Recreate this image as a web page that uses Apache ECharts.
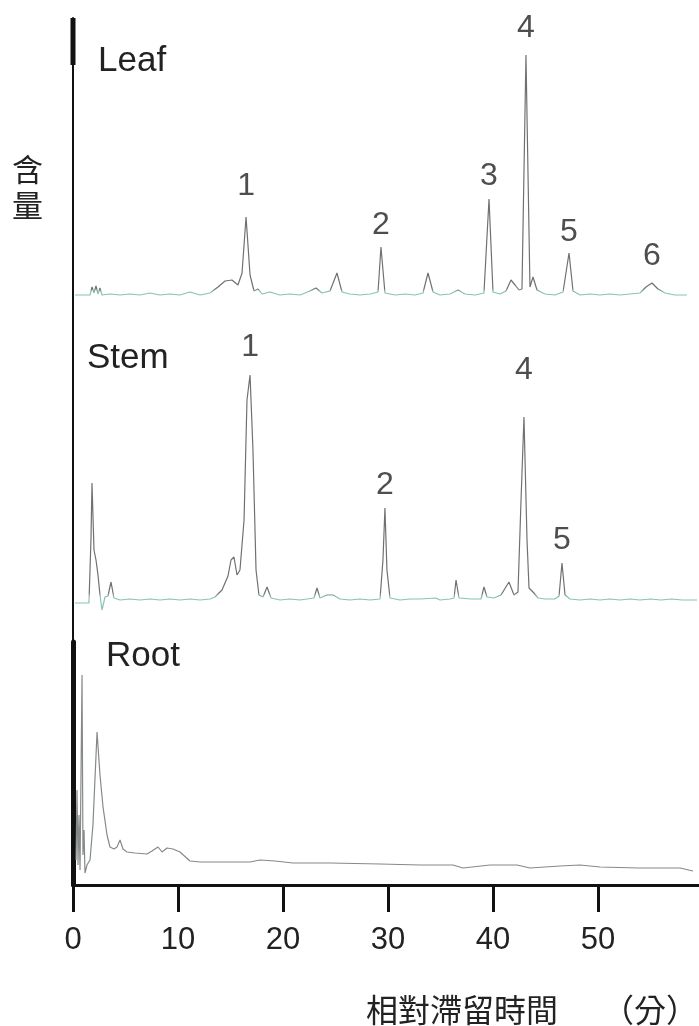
<!DOCTYPE html>
<html><head><meta charset="utf-8">
<script src="https://cdn.jsdelivr.net/npm/echarts@6/dist/echarts.min.js"></script>
<style>html,body{margin:0;padding:0;background:#fff}#c{width:699px;height:1026px}</style>
</head><body><div id="c"></div>
<script>
// Retention time (min) and detector signal
const leafTime = [0.19,1.62,1.81,2.0,2.19,2.38,2.57,2.76,3.52,4.48,5.43,6.38,7.33,8.29,9.24,10.19,11.14,12.1,13.05,13.81,14.48,15.14,15.71,16.1,16.48,16.86,17.24,17.62,18.0,18.76,19.71,20.67,21.62,22.57,23.14,23.71,24.48,25.14,25.62,26.38,27.33,28.29,29.05,29.33,29.71,30.67,31.62,32.57,33.33,33.81,34.29,34.95,35.9,36.67,37.33,38.29,39.14,39.62,40.0,40.67,41.24,41.71,42.1,42.48,42.76,43.14,43.52,43.81,44.19,44.95,45.9,46.67,47.24,47.62,48.29,49.24,50.19,51.14,52.1,53.05,54.0,54.57,55.14,55.71,56.38,57.33,58.48];
const leafSignal = [0,0,8,2,9,1,7,0,1,0,1,0,2,0,1,0,3,0,2,8,14,15,10,22,78,20,4,6,1,3,0,1,0,4,7,2,4,22,3,1,0,1,3,48,2,0,1,0,2,22,3,0,1,5,1,0,2,96,3,1,4,15,10,5,6,240,8,18,5,1,0,3,42,4,0,1,0,1,0,1,2,8,12,6,2,0,0];
const leafPeakTime = [16.48,29.33,39.62,43.14,47.24,55.14];
const leafPeakId = ['1','2','3','4','5','6'];

const stemTime = [0.19,1.52,1.71,1.81,2.0,2.19,2.38,2.57,2.76,3.05,3.33,3.62,3.9,4.48,5.43,6.38,7.33,8.29,9.24,10.19,11.14,12.1,13.05,13.52,14.19,14.76,15.05,15.33,15.62,15.9,16.29,16.57,16.86,17.14,17.43,17.71,18.1,18.48,18.86,19.71,20.67,21.62,22.95,23.24,23.52,24.19,24.76,25.43,26.38,27.33,28.29,29.24,29.52,29.71,29.9,30.19,31.14,32.1,33.05,34.57,34.95,35.9,36.29,36.48,36.76,37.9,38.86,39.14,39.43,40.1,40.76,41.52,42.0,42.38,42.67,42.95,43.24,43.43,43.81,44.29,44.95,45.9,46.29,46.57,46.86,47.33,48.29,49.24,50.19,51.14,52.1,53.05,54.0,55.0,56.0,57.0,58.0,59.43];
const stemSignal = [-3,-3,60,117,50,40,25,5,-10,3,4,18,2,0,1,0,1,0,1,0,1,0,1,3,10,24,40,43,25,30,80,200,225,150,30,5,3,13,2,0,1,0,2,12,2,5,5,1,0,1,0,1,40,92,30,2,0,1,1,2,0,1,2,20,2,1,1,13,3,2,5,18,5,8,100,183,60,12,8,2,1,1,4,37,5,1,0,1,0,1,0,1,0,1,0,1,0,0];
const stemPeakTime = [16.86,29.71,42.95,46.57];
const stemPeakId = ['1','2','4','5'];

const rootTime = [0.29,0.38,0.48,0.57,0.67,0.86,0.95,1.05,1.14,1.33,1.62,1.9,2.29,2.57,2.86,3.24,3.52,3.9,4.19,4.48,4.76,5.14,5.9,7.05,7.52,8.1,8.48,8.95,9.52,10.19,11.14,12.1,16.86,17.81,19.24,20.95,24.48,29.24,33.05,36.19,37.14,39.71,42.29,43.52,46.38,48.29,50.19,53.9,57.81,59.05];
const rootSignal = [25,95,20,70,15,210,30,55,12,20,25,60,153,110,78,50,38,36,38,45,36,33,32,31,34,38,33,37,36,33,24,23,23,25,24,22,22,21,20,20,17,20,20,17,19,20,18,17,17,14];

const xTicks = [0,10,20,30,40,50];
const panelNames = ['Leaf','Stem','Root'];
const yName = '含量';
const xName = '相對滯留時間';
const xUnit = '（分）';

function zip(t, s){ return t.map((v,i)=>[v, s[i]]); }
function peaks(t, s, pt, ids, gaps){
  return pt.map((p,i)=>{
    const k = t.indexOf(p);
    return {value:[p, s[k]], label:{formatter: ids[i], distance: gaps[i]}};
  });
}
// gray trace that turns teal near its baseline (absolute pixel gradient)
function traceColor(y0, y1, yTeal){
  const f = (yTeal - y0) / (y1 - y0);
  return new echarts.graphic.LinearGradient(0, y0, 0, y1, [
    {offset:0, color:'#707070'}, {offset:f-0.012, color:'#707070'},
    {offset:f, color:'#86c3b6'}, {offset:1, color:'#86c3b6'}
  ], true);
}

const chart = echarts.init(document.getElementById('c'));
const grids = [
  {left:73, width:630, top:18, height:287, outerBoundsMode:'none', containLabel:false},
  {left:73, width:630, top:305, height:337, outerBoundsMode:'none', containLabel:false},
  {left:73, width:630, top:642, height:243, outerBoundsMode:'none', containLabel:false}
];
const xAxes = [0,1,2].map(i=>({
  type:'value', gridIndex:i, min:0, max:60, interval:10, show: i===2,
  axisLine:{show:true, lineStyle:{color:'#111', width:3}},
  axisTick:{show:true, length:27, lineStyle:{color:'#111', width:3}},
  axisLabel:{show:true, margin:40, fontSize:31, color:'#222', fontFamily:'Liberation Sans, Arial',
    showMaxLabel:false, formatter:v=> xTicks.includes(v) ? String(v) : ''},
  splitLine:{show:false}
}));
const yLims = [[-10,277],[-42,295],[0,243]];
const yAxes = [0,1,2].map(i=>({
  type:'value', gridIndex:i, min:yLims[i][0], max:yLims[i][1],
  axisLine:{show:true, onZero:false, lineStyle:{color:'#111', width: i===2?5:2}},
  axisTick:{show:false}, axisLabel:{show:false}, splitLine:{show:false}
}));
const lbl = {show:true, position:'top', fontSize:32, color:'#222', fontFamily:'Liberation Sans, Arial'};

chart.setOption({
  animation:false,
  grid: grids, xAxis: xAxes, yAxis: yAxes,
  series:[
    {type:'line', xAxisIndex:0, yAxisIndex:0, data:zip(leafTime,leafSignal), showSymbol:false, symbol:'none',
      lineStyle:{width:1.2, color:traceColor(18, 305, 292)}},
    {type:'line', xAxisIndex:1, yAxisIndex:1, data:zip(stemTime,stemSignal), showSymbol:false, symbol:'none',
      lineStyle:{width:1.2, color:traceColor(305, 642, 597)}},
    {type:'line', xAxisIndex:2, yAxisIndex:2, data:zip(rootTime,rootSignal), showSymbol:false, symbol:'none',
      lineStyle:{width:1.2, color:'#858a88'}},
    {type:'scatter', xAxisIndex:0, yAxisIndex:0, symbolSize:0, label:lbl,
      data:peaks(leafTime,leafSignal,leafPeakTime,leafPeakId,[15,6,7,11,5,11])},
    {type:'scatter', xAxisIndex:1, yAxisIndex:1, symbolSize:0, label:lbl,
      data:peaks(stemTime,stemSignal,stemPeakTime,stemPeakId,[12,7,31,7])}
  ],
  graphic:[
    {type:'rect', shape:{x:70.5, y:18, width:5, height:47}, style:{fill:'#111'}},
    {type:'text', left:98, top:44, style:{text:panelNames[0], fontSize:35, fill:'#222', fontFamily:'Liberation Sans, Arial'}},
    {type:'text', left:87, top:341, style:{text:panelNames[1], fontSize:35, fill:'#222', fontFamily:'Liberation Sans, Arial'}},
    {type:'text', left:106, top:639, style:{text:panelNames[2], fontSize:35, fill:'#222', fontFamily:'Liberation Sans, Arial'}},
    {type:'text', left:12, top:151, style:{text:yName.split('').join('\n'), fontSize:31, lineHeight:36, fill:'#222', fontFamily:'Noto Sans CJK TC'}},
    {type:'text', left:366, top:994, style:{text:xName, fontSize:32, fill:'#222', fontFamily:'Noto Sans CJK TC'}},
    {type:'text', left:602, top:994, style:{text:xUnit, fontSize:32, fill:'#222', fontFamily:'Noto Sans CJK TC'}}
  ]
});
</script></body></html>
